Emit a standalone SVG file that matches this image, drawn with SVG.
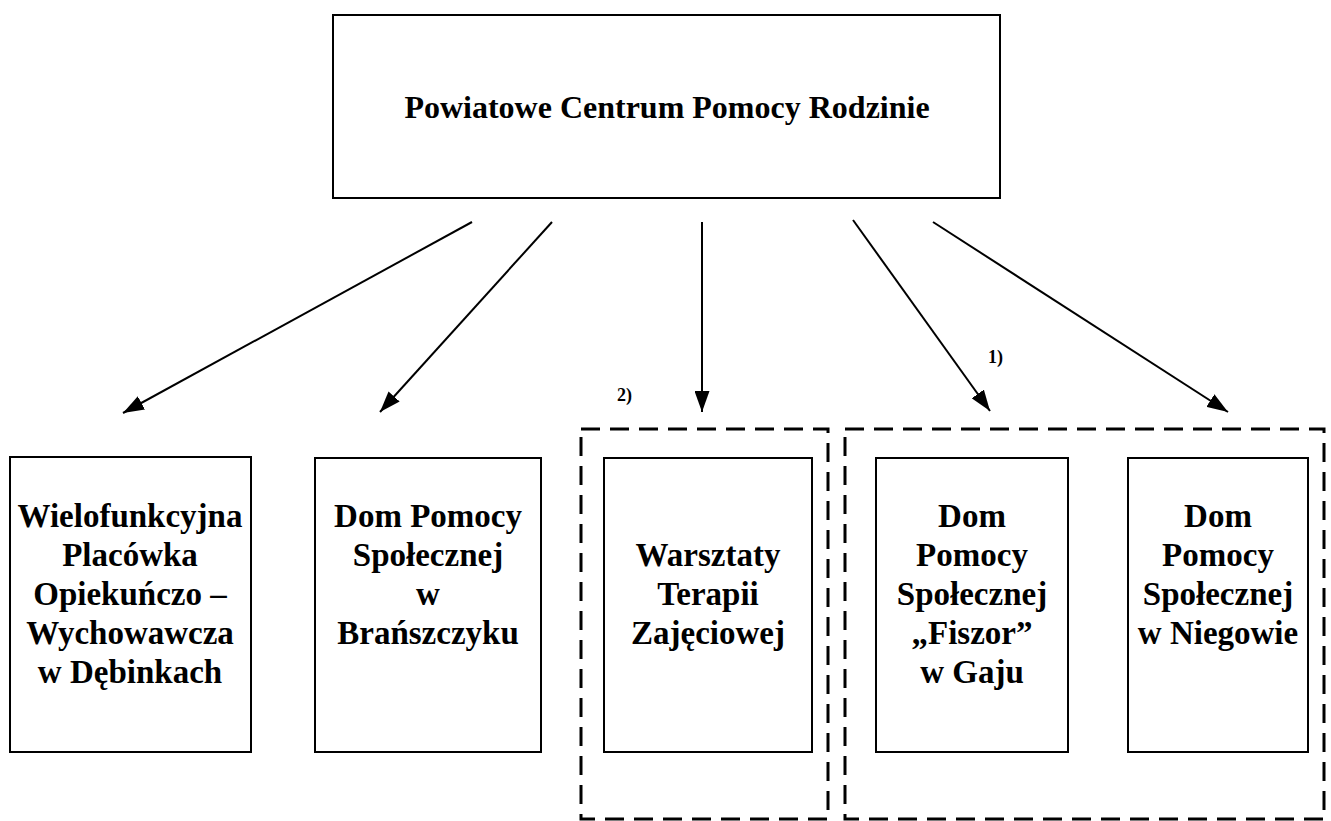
<svg xmlns="http://www.w3.org/2000/svg" width="1331" height="821" viewBox="0 0 1331 821">
<style>
.box{fill:#fff;stroke:#000;stroke-width:2}
.grp{fill:none;stroke:#000;stroke-width:3;stroke-dasharray:19 10}
.t{font-family:"Liberation Serif","Times New Roman",serif;font-weight:bold;font-size:33px;fill:#000;text-anchor:middle}
.tt{font-family:"Liberation Serif","Times New Roman",serif;font-weight:bold;font-size:32px;fill:#000;text-anchor:middle}
.lbl{font-family:"Liberation Serif","Times New Roman",serif;font-weight:bold;font-size:18px;fill:#000}
.conn line{stroke:#000;stroke-width:2;marker-end:url(#ah)}
</style>
<defs>
<marker id="ah" markerUnits="userSpaceOnUse" markerWidth="21" markerHeight="15" refX="21" refY="7.5" orient="auto">
<path d="M0,0 L21,7.5 L0,15 z" fill="#000"/>
</marker>
</defs>
<rect width="1331" height="821" fill="#fff"/>
<g id="group-2">
<rect class="grp" x="581" y="429" width="247" height="390"/>
<text class="lbl" x="617" y="401">2)</text>
</g>
<g id="group-1">
<rect class="grp" x="845" y="429" width="479" height="390"/>
<text class="lbl" x="988" y="363">1)</text>
</g>
<g id="pcpr">
<rect class="box" x="333" y="15" width="667" height="183"/>
<text class="tt" x="667" y="118">Powiatowe Centrum Pomocy Rodzinie</text>
</g>
<g id="wpow">
<rect class="box" x="10" y="457" width="241" height="295"/>
<text class="t" x="130" y="527">Wielofunkcyjna</text>
<text class="t" x="130" y="566">Placówka</text>
<text class="t" x="130" y="605">Opiekuńczo –</text>
<text class="t" x="130" y="644">Wychowawcza</text>
<text class="t" x="130" y="683">w Dębinkach</text>
</g>
<g id="dps-branszczyk">
<rect class="box" x="315" y="458" width="226" height="294"/>
<text class="t" x="428" y="527">Dom Pomocy</text>
<text class="t" x="428" y="566">Społecznej</text>
<text class="t" x="428" y="605">w</text>
<text class="t" x="428" y="644">Brańszczyku</text>
</g>
<g id="wtz">
<rect class="box" x="604" y="458" width="208" height="294"/>
<text class="t" x="708" y="566">Warsztaty</text>
<text class="t" x="708" y="605">Terapii</text>
<text class="t" x="708" y="644">Zajęciowej</text>
</g>
<g id="dps-fiszor">
<rect class="box" x="876" y="458" width="192" height="294"/>
<text class="t" x="972" y="527">Dom</text>
<text class="t" x="972" y="566">Pomocy</text>
<text class="t" x="972" y="605">Społecznej</text>
<text class="t" x="972" y="644">„Fiszor”</text>
<text class="t" x="972" y="683">w Gaju</text>
</g>
<g id="dps-niegowa">
<rect class="box" x="1128" y="458" width="180" height="294"/>
<text class="t" x="1218" y="527">Dom</text>
<text class="t" x="1218" y="566">Pomocy</text>
<text class="t" x="1218" y="605">Społecznej</text>
<text class="t" x="1218" y="644">w Niegowie</text>
</g>
<g id="connectors" class="conn">
<line x1="472" y1="222" x2="123" y2="413"/>
<line x1="552" y1="222" x2="380" y2="412"/>
<line x1="702" y1="222" x2="702" y2="412"/>
<line x1="853" y1="220" x2="990" y2="411"/>
<line x1="933" y1="222" x2="1228" y2="412"/>
</g>
</svg>
